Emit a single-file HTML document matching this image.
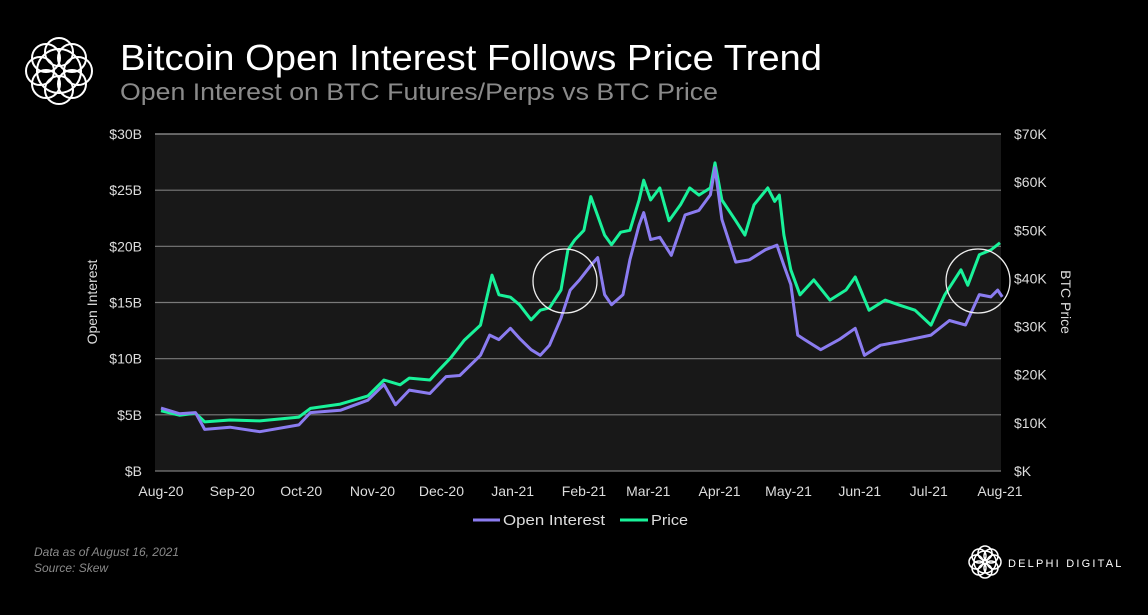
<!DOCTYPE html>
<html><head><meta charset="utf-8"><style>
html,body{margin:0;padding:0;background:#000;}
body{width:1148px;height:610px;overflow:hidden;font-family:"Liberation Sans",sans-serif;}
</style></head><body>
<svg width="1148" height="610" viewBox="0 0 1148 610" xmlns="http://www.w3.org/2000/svg">
<rect width="1148" height="610" fill="#000"/>
<g fill="none" stroke="#fff" stroke-width="2">
  <circle cx="59" cy="71" r="22"/>
  <circle cx="59" cy="52" r="14"/><circle cx="59" cy="90" r="14"/>
  <circle cx="40" cy="71" r="14"/><circle cx="78" cy="71" r="14"/>
  <circle cx="46" cy="58" r="14"/><circle cx="72" cy="84" r="14"/>
  <circle cx="72" cy="58" r="14"/><circle cx="46" cy="84" r="14"/>
</g>
<text x="120" y="70" fill="#fff" font-size="36" textLength="702" lengthAdjust="spacingAndGlyphs">Bitcoin Open Interest Follows Price Trend</text>
<text x="120" y="100" fill="#8a8a8a" font-size="24" textLength="598" lengthAdjust="spacingAndGlyphs">Open Interest on BTC Futures/Perps vs BTC Price</text>
<rect x="155" y="134" width="846" height="337" fill="#181818"/>
<g id="grid"></g>
<g id="axes" font-size="14" fill="#ddd"></g>
<g id="series"></g>
<circle cx="565" cy="281" r="32" fill="none" stroke="#eee" stroke-width="1.3"/>
<circle cx="978" cy="281" r="32" fill="none" stroke="#eee" stroke-width="1.3"/>
<text transform="translate(97,302) rotate(-90)" text-anchor="middle" fill="#ddd" font-size="14">Open Interest</text>
<text transform="translate(1061,302) rotate(90)" text-anchor="middle" fill="#ddd" font-size="14">BTC Price</text>
<g>
  <line x1="473" y1="520" x2="500" y2="520" stroke="#8b7cf0" stroke-width="3"/>
  <text x="503" y="525" fill="#ddd" font-size="15" textLength="102" lengthAdjust="spacingAndGlyphs">Open Interest</text>
  <line x1="620" y1="520" x2="648" y2="520" stroke="#19f29a" stroke-width="3"/>
  <text x="651" y="525" fill="#ddd" font-size="15" textLength="37" lengthAdjust="spacingAndGlyphs">Price</text>
</g>
<text x="34" y="556" fill="#8a8a8a" font-size="12" font-style="italic">Data as of August 16, 2021</text>
<text x="34" y="572" fill="#8a8a8a" font-size="12" font-style="italic">Source:  Skew</text>
<g fill="none" stroke="#fff" stroke-width="1.5">
  <circle cx="985" cy="562" r="11"/>
  <circle cx="985" cy="553" r="7"/><circle cx="985" cy="571" r="7"/>
  <circle cx="976" cy="562" r="7"/><circle cx="994" cy="562" r="7"/>
  <circle cx="979" cy="556" r="7"/><circle cx="991" cy="568" r="7"/>
  <circle cx="991" cy="556" r="7"/><circle cx="979" cy="568" r="7"/>
</g>
<text x="1008" y="567" fill="#fff" font-size="11" letter-spacing="2.2">DELPHI DIGITAL</text>
</svg>
<script>
const monthLabels=["Aug-20","Sep-20","Oct-20","Nov-20","Dec-20","Jan-21","Feb-21","Mar-21","Apr-21","May-21","Jun-21","Jul-21","Aug-21"];
const monthDays=[0,31,61,92,122,153,184,212,243,273,304,334,365];
const leftTicks=[0,5,10,15,20,25,30];
const rightTicks=[0,10,20,30,40,50,60,70];
const priceDays=[0,8,15,19,30,43,60,65,78,90,97,104,108,117,121,126,132,139,144,147,152,156,161,165,169,174,177,180,184,187,190,193,196,200,204,208,210,213,217,221,226,230,234,239,241,244,250,254,258,264,267,269,271,274,278,284,291,298,302,308,315,321,328,335,341,348,351,356,361,365];
const priceK=[12.5,11.6,12,10.2,10.6,10.4,11.2,13,13.9,15.6,18.9,17.9,19.3,18.9,21,23.5,27.2,30.3,40.7,36.6,36.1,34.5,31.4,33.4,33.9,37.6,45.9,48,50,57,53,49,47,49.6,50,56.3,60.4,56.3,58.8,52,55.3,58.8,57.3,58.8,64,56.3,52,49,55.3,58.8,56,57.3,49,41.8,36.6,39.7,35.5,37.6,40.3,33.4,35.5,34.5,33.4,30.3,36.6,41.8,38.6,44.9,45.9,47.4];
const oiDays=[0,8,15,19,30,43,60,65,78,90,97,102,108,117,124,130,139,143,147,152,156,161,165,169,174,178,182,187,190,193,196,201,204,208,210,213,217,222,228,234,239,241,244,250,256,263,268,271,274,277,280,287,295,302,306,313,321,335,343,350,356,361,364,366];
const oiB=[5.6,5.1,5.2,3.7,3.9,3.5,4.1,5.2,5.4,6.3,7.7,5.9,7.2,6.9,8.4,8.5,10.3,12.1,11.7,12.7,11.8,10.8,10.3,11.2,13.6,16.1,17,18.3,19,15.7,14.8,15.7,18.8,21.9,23,20.6,20.8,19.2,22.8,23.2,24.6,27,22.4,18.6,18.8,19.7,20.1,18.3,16.6,12.1,11.7,10.8,11.7,12.7,10.3,11.2,11.5,12.1,13.4,13,15.7,15.5,16.1,15.5];
const NS="http://www.w3.org/2000/svg";
const X0=161,X1=1000,YT=134,YB=471;
function xS(d){return X0+d*(X1-X0)/365;}
function yL(v){return YB-v*(YB-YT)/30;}
function yR(v){return YB-v*(YB-YT)/70;}
const grid=document.getElementById('grid'),axes=document.getElementById('axes'),series=document.getElementById('series');
leftTicks.forEach((t,i)=>{
  const y=yL(t);
  const l=document.createElementNS(NS,'line');
  l.setAttribute('x1',155);l.setAttribute('x2',1001);l.setAttribute('y1',y);l.setAttribute('y2',y);
  l.setAttribute('stroke',i===leftTicks.length-1?'#999':'#7a7a7a');l.setAttribute('stroke-width',1.2);
  
  
  grid.appendChild(l);
  const tx=document.createElementNS(NS,'text');
  tx.setAttribute('x',142);tx.setAttribute('y',y+5);tx.setAttribute('text-anchor','end');
  tx.textContent='$'+(t===0?'':t)+'B';
  
  
  axes.appendChild(tx);
});
rightTicks.forEach(t=>{
  const tx=document.createElementNS(NS,'text');
  tx.setAttribute('x',1014);tx.setAttribute('y',yR(t)+5);
  tx.textContent='$'+(t===0?'':t)+'K';
  
  
  axes.appendChild(tx);
});
monthLabels.forEach((m,i)=>{
  const tx=document.createElementNS(NS,'text');
  tx.setAttribute('x',xS(monthDays[i]));tx.setAttribute('y',496);tx.setAttribute('text-anchor','middle');
  tx.textContent=m;
  
  
  axes.appendChild(tx);
});
function line(days,vals,ys,color,name){
  const p=document.createElementNS(NS,'path');
  p.setAttribute('d',days.map((d,i)=>(i?'L':'M')+xS(d).toFixed(1)+','+ys(vals[i]).toFixed(1)).join(''));
  p.setAttribute('fill','none');p.setAttribute('stroke',color);p.setAttribute('stroke-width',3);p.setAttribute('stroke-linejoin','round');
  
  
  series.appendChild(p);
}
line(priceDays,priceK,yR,'#19f29a','price-line');
line(oiDays,oiB,yL,'#8b7cf0','open-interest-line');
</script>
</body></html>
